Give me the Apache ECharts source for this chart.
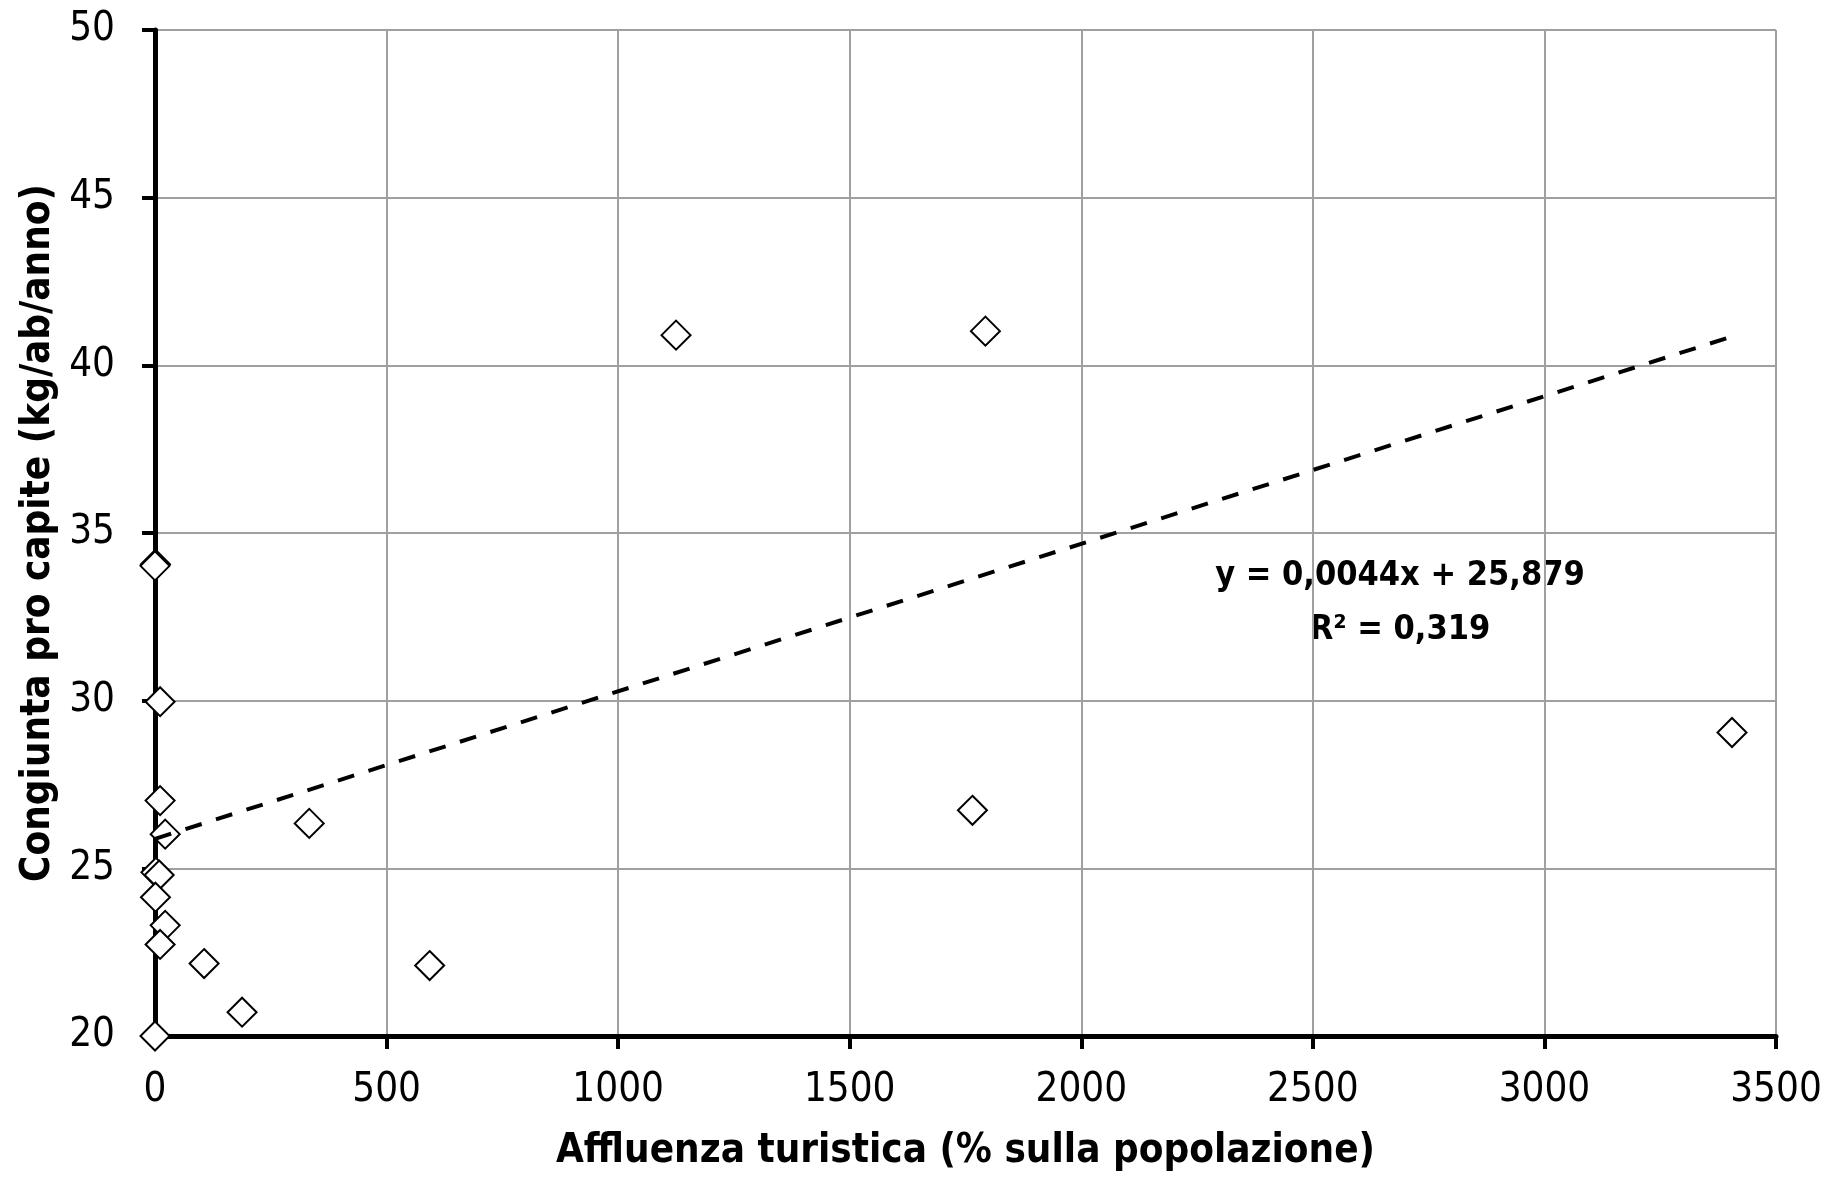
<!DOCTYPE html>
<html>
<head>
<meta charset="utf-8">
<script src="https://cdn.jsdelivr.net/npm/echarts@6/dist/echarts.min.js"></script>
<style>
html,body{margin:0;padding:0;background:#fff;}
#chart{width:1825px;height:1182px;}
</style>
</head>
<body>
<div id="chart"></div>
<script>
// Affluenza turistica (% sulla popolazione)
const affluenza = [1125, 1793, 3405, 1765, 333, 593, 106, 188, 1, 0, 11, 11, 22, 2, 9, 1, 22, 11, 0];
// Congiunta pro capite (kg/ab/anno)
const congiunta = [40.9, 41.02, 29.05, 26.73, 26.34, 22.1, 22.16, 20.71, 34.07, 34.02, 29.97, 27.02, 26.02, 24.88, 24.8, 24.14, 23.3, 22.73, 20.0];
// Trend line endpoints (y = 0,0044x + 25,879)
const trendX = [0, 3405];
const trendY = [25.879, 40.86];
const xTicks = [0, 500, 1000, 1500, 2000, 2500, 3000, 3500];
const yTicks = [20, 25, 30, 35, 40, 45, 50];
const equationText = 'y = 0,0044x + 25,879';
const r2Text = 'R² = 0,319';
const xTitle = 'Affluenza turistica (% sulla popolazione)';
const yTitle = 'Congiunta pro capite (kg/ab/anno)';

const FONT = '"DejaVu Sans Condensed", "DejaVu Sans", sans-serif';

const chart = echarts.init(document.getElementById('chart'));
const points = affluenza.map((x, i) => [x, congiunta[i]]);
const trend = trendX.map((x, i) => [x, trendY[i]]);

chart.setOption({
  animation: false,
  backgroundColor: '#fff',
  grid: {left: 155, right: 49, top: 30, bottom: 146, containLabel: false, outerBoundsMode: 'none'},
  xAxis: {
    type: 'value', min: xTicks[0], max: xTicks[xTicks.length - 1], interval: 500,
    name: xTitle, nameLocation: 'middle', nameGap: 96,
    nameTextStyle: {fontFamily: FONT, fontSize: 40, fontWeight: 'bold', color: '#000'},
    axisLine: {show: true, onZero: false, lineStyle: {color: '#000', width: 5}},
    axisTick: {show: true, length: 13, lineStyle: {color: '#000', width: 4}},
    axisLabel: {fontFamily: FONT, fontSize: 40, color: '#000', margin: 35, formatter: v => String(v)},
    splitLine: {show: true, lineStyle: {color: '#a0a0a0', width: 2}}
  },
  yAxis: {
    type: 'value', min: yTicks[0], max: yTicks[yTicks.length - 1], interval: 5,
    name: yTitle, nameLocation: 'middle', nameGap: 89, nameRotate: 90,
    nameTextStyle: {fontFamily: FONT, fontSize: 40, fontWeight: 'bold', color: '#000'},
    axisLine: {show: true, onZero: false, lineStyle: {color: '#000', width: 5}},
    axisTick: {show: true, length: 13, lineStyle: {color: '#000', width: 4}},
    axisLabel: {fontFamily: FONT, fontSize: 40, color: '#000', margin: 40, formatter: v => String(v)},
    splitLine: {show: true, lineStyle: {color: '#a0a0a0', width: 2}}
  },
  series: [
    {
      type: 'line', data: trend, symbol: 'none', silent: true, z: 3,
      lineStyle: {color: '#000', width: 4, type: [17, 15]}
    },
    {
      type: 'scatter', data: points, symbol: 'diamond', symbolSize: [29, 29], z: 2,
      itemStyle: {color: '#fff', borderColor: '#000', borderWidth: 2, opacity: 1}
    }
  ],
  graphic: [
    {type: 'text', x: 1400, y: 576, style: {text: equationText, font: 'bold 34px ' + FONT, fill: '#000', align: 'center', verticalAlign: 'middle'}},
    {type: 'text', x: 1400, y: 630, style: {text: r2Text, font: 'bold 34px ' + FONT, fill: '#000', align: 'center', verticalAlign: 'middle'}}
  ]
});
</script>
</body>
</html>
